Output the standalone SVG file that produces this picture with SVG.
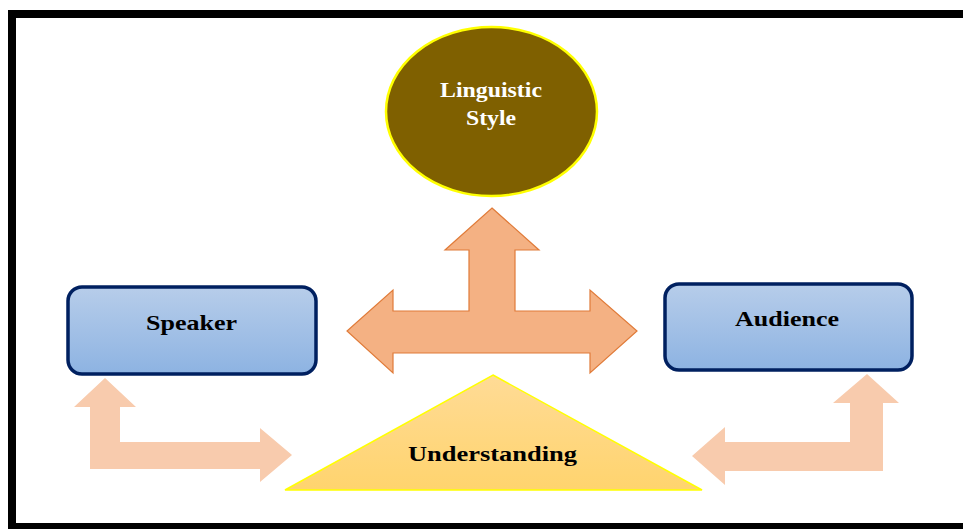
<svg xmlns="http://www.w3.org/2000/svg" width="963" height="529" viewBox="0 0 963 529">
<defs>
<linearGradient id="gBox" x1="0" y1="0" x2="0" y2="1">
<stop offset="0" stop-color="#B7CDEA"/>
<stop offset="1" stop-color="#8DB3E2"/>
</linearGradient>
<linearGradient id="gTri" x1="0" y1="0" x2="0" y2="1">
<stop offset="0" stop-color="#FFDB96"/>
<stop offset="1" stop-color="#FFD46E"/>
</linearGradient>
</defs>
<style>
.box{fill:url(#gBox);stroke:#002060;stroke-width:3.5}
.lbl{font-family:"Liberation Serif","Times New Roman",serif;font-weight:bold;text-anchor:middle}
.big{fill:#F4B183;stroke:#E07B39;stroke-width:1.2}
.lite{fill:#F8CBAD;stroke:none}
</style>
<rect x="0" y="0" width="963" height="529" fill="#FFFFFF"/>
<rect x="12" y="14" width="960" height="513" fill="none" stroke="#000000" stroke-width="8"/>
<g id="connectors">
<path class="big" d="M492,208 L539,250 L515,250 L515,311 L590,311 L590,290 L637,331 L590,373 L590,353 L393,353 L393,373 L347,331 L393,290 L393,311 L469,311 L469,250 L445,250 Z"/>
<path class="lite" d="M105,378 L136,407 L120,407 L120,442 L260,442 L260,428 L292,455 L260,482 L260,469 L90,469 L90,407 L74,407 Z"/>
<path class="lite" d="M867,374 L899,403 L883,403 L883,471 L725,471 L725,485 L692,456 L725,427 L725,442 L850,442 L850,403 L833,403 Z"/>
</g>
<g id="linguistic-style">
<ellipse cx="491.5" cy="111.5" rx="105.5" ry="84.5" fill="#7F6000" stroke="#FFFF00" stroke-width="2.5"/>
<text class="lbl" x="491" y="97" font-size="20" fill="#FFFFFF" textLength="102" lengthAdjust="spacingAndGlyphs">Linguistic</text>
<text class="lbl" x="491" y="125" font-size="20" fill="#FFFFFF" textLength="50" lengthAdjust="spacingAndGlyphs">Style</text>
</g>
<g id="speaker">
<rect class="box" x="68" y="287" width="248" height="87" rx="14"/>
<text class="lbl" x="191.5" y="330" font-size="22" fill="#000000" textLength="91" lengthAdjust="spacingAndGlyphs">Speaker</text>
</g>
<g id="audience">
<rect class="box" x="665" y="284" width="247" height="86" rx="14"/>
<text class="lbl" x="787" y="326" font-size="22" fill="#000000" textLength="104" lengthAdjust="spacingAndGlyphs">Audience</text>
</g>
<g id="understanding">
<path d="M493,375 L702,490 L285,490 Z" fill="url(#gTri)" stroke="#FFFF00" stroke-width="1.5"/>
<text class="lbl" x="492.5" y="461" font-size="22" fill="#000000" textLength="169" lengthAdjust="spacingAndGlyphs">Understanding</text>
</g>
</svg>
